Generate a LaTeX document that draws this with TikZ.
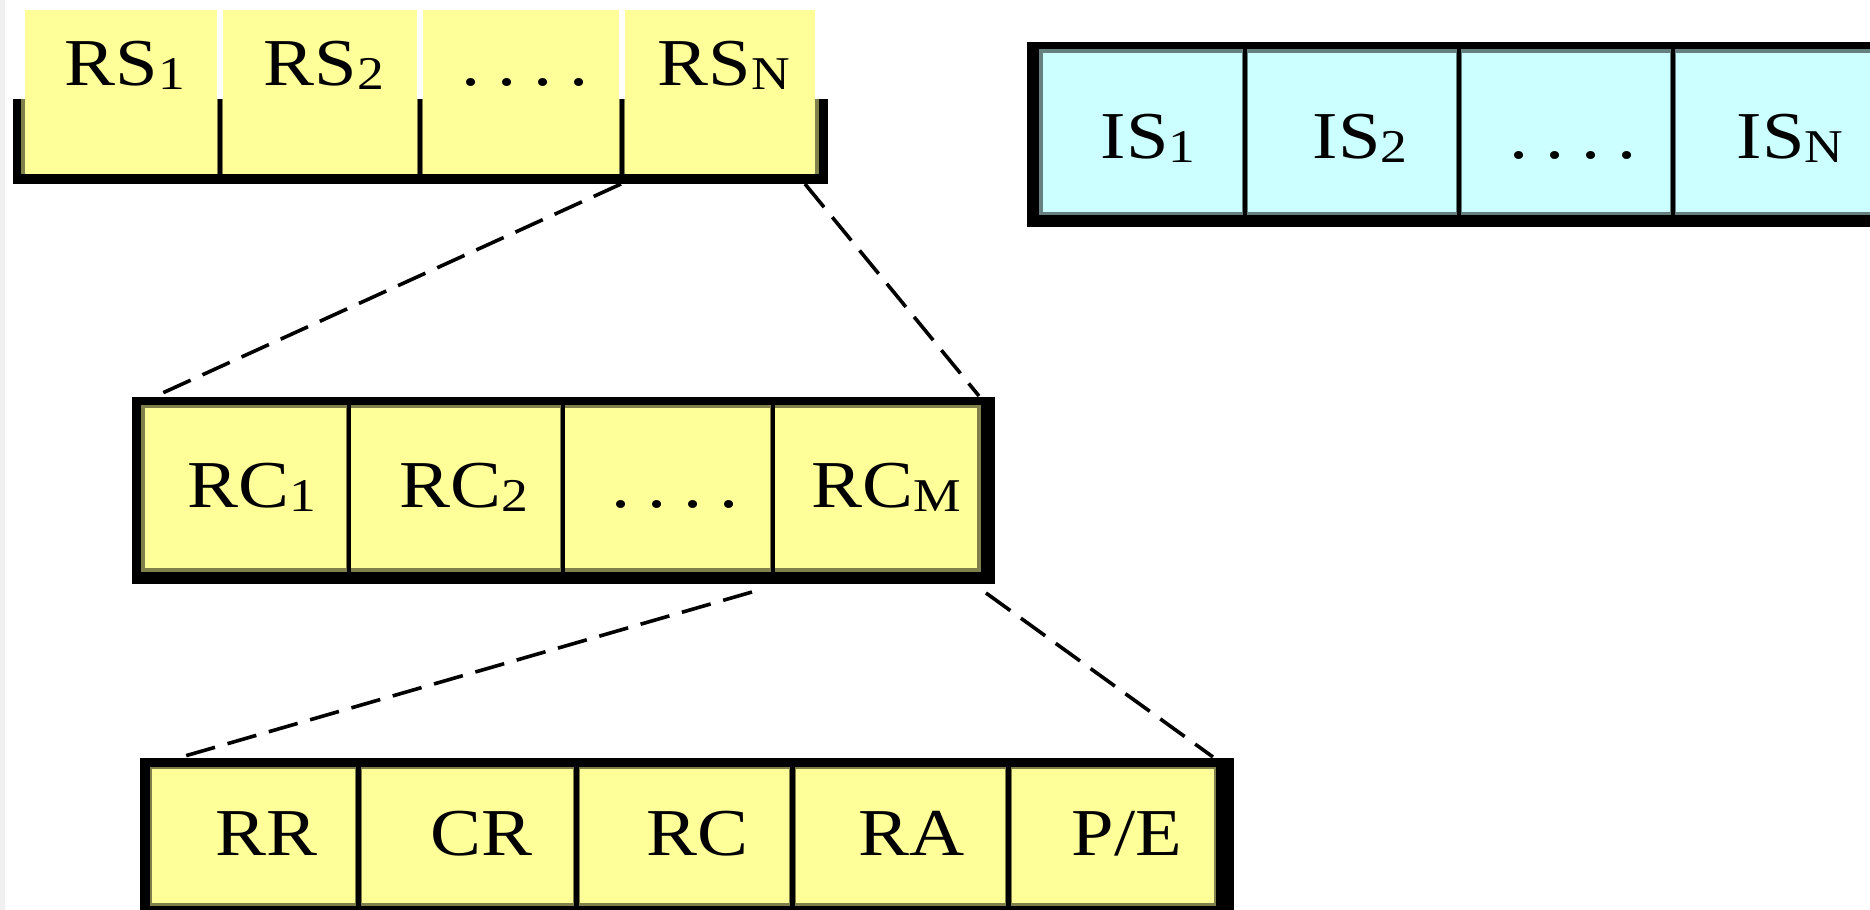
\documentclass[tikz,border=0pt]{standalone}
\usepackage{fontspec}
\setmainfont{Liberation Serif}
\definecolor{cellyellow}{HTML}{FFFF99}
\definecolor{cellcyan}{HTML}{CCFFFF}
\definecolor{rimyellow}{HTML}{80804D}
\definecolor{rimcyan}{HTML}{668080}
\definecolor{sidestrip}{HTML}{F0F0F0}
\newcommand{\lowidx}[1]{\raisebox{-2pt}{\fontsize{23.5}{24}\selectfont #1}}
\newcommand{\celltext}[1]{\scalebox{1.14}[1]{#1}}
\newcommand{\fourdots}{.\hspace{0.22em}.\hspace{0.22em}.\hspace{0.22em}.}
\begin{document}
\begin{tikzpicture}[x=0.5pt,y=-0.5pt,
  cellbox/.style={rectangle,inner sep=0pt,outer sep=0pt,draw=none},
  celllabel/.style={anchor=base,inner sep=0pt,font=\fontsize{33.5}{40}\selectfont},
  divider/.style={line width=2pt,black},
  thickdivider/.style={line width=2.5pt,black},
  zoomline/.style={line width=1.8pt,dash pattern=on 15pt off 6.5pt}]
\useasboundingbox (0,0) rectangle (1870,910);
\clip (0,0) rectangle (1870,910);
\fill[white] (0,0) rectangle (1870,910);
\fill[sidestrip] (0,0) rectangle (5,910);

% ---- RS row (frame open at the top) ----
\fill[black] (13,99) rectangle (828,184);
\fill[rimyellow] (21,99) rectangle (819,174);
\node[cellbox,fill=cellyellow,minimum width=96pt,minimum height=82pt] (rs1) at (121,92) {};
\node[cellbox,fill=cellyellow,minimum width=97pt,minimum height=82pt] (rs2) at (320,92) {};
\node[cellbox,fill=cellyellow,minimum width=98pt,minimum height=82pt] (rs3) at (521,92) {};
\node[cellbox,fill=cellyellow,minimum width=95pt,minimum height=82pt] (rs4) at (720,92) {};
\foreach \dx in {220,420,622} \draw[divider] (\dx,99) -- (\dx,174);
\node[celllabel] (lrs1) at (125,85) {\celltext{RS\lowidx{1}}};
\node[celllabel] (lrs2) at (324,85) {\celltext{RS\lowidx{2}}};
\node[celllabel] (lrs3) at (525,85) {\celltext{\fourdots}};
\node[celllabel] (lrs4) at (724,85) {\celltext{RS\lowidx{N}}};

% ---- IS row ----
\fill[black] (1027,42) rectangle (1900,227);
\fill[rimcyan] (1039,49) rectangle (1900,215);
\node[cellbox,fill=cellcyan,minimum width=99.5pt,minimum height=79.5pt] (is1) at (1142.5,132.5) {};
\node[cellbox,fill=cellcyan,minimum width=104pt,minimum height=79.5pt] (is2) at (1352,132.5) {};
\node[cellbox,fill=cellcyan,minimum width=104pt,minimum height=79.5pt] (is3) at (1566,132.5) {};
\node[cellbox,fill=cellcyan,minimum width=107pt,minimum height=79.5pt] (is4) at (1783,132.5) {};
\foreach \dx in {1245,1459,1673} \draw[divider] (\dx,49) -- (\dx,215);
\node[celllabel] (lis1) at (1148,158) {\celltext{IS\lowidx{1}}};
\node[celllabel] (lis2) at (1360,158) {\celltext{IS\lowidx{2}}};
\node[celllabel] (lis3) at (1573,158) {\celltext{\fourdots}};
\node[celllabel] (lis4) at (1790,158) {\celltext{IS\lowidx{N}}};

% ---- RC row ----
\fill[black] (132,397) rectangle (995,584);
\fill[rimyellow] (141,405) rectangle (981,572);
\node[cellbox,fill=cellyellow,minimum width=100.5pt,minimum height=80pt] (rc1) at (245.5,488) {};
\node[cellbox,fill=cellyellow,minimum width=104.5pt,minimum height=80pt] (rc2) at (455.5,488) {};
\node[cellbox,fill=cellyellow,minimum width=102.5pt,minimum height=80pt] (rc3) at (667.5,488) {};
\node[cellbox,fill=cellyellow,minimum width=101pt,minimum height=80pt] (rc4) at (876,488) {};
\foreach \dx in {348.5,562.5,772.5} \draw[divider] (\dx,405) -- (\dx,572);
\node[celllabel] (lrc1) at (252,507) {\celltext{RC\lowidx{1}}};
\node[celllabel] (lrc2) at (464,507) {\celltext{RC\lowidx{2}}};
\node[celllabel] (lrc3) at (675,507) {\celltext{\fourdots}};
\node[celllabel] (lrc4) at (886,507) {\celltext{RC\lowidx{M}}};

% ---- field row ----
\fill[black] (140,758) rectangle (1234,915);
\fill[rimyellow] (150,767) rectangle (1216,906);
\node[cellbox,fill=cellyellow,minimum width=101.5pt,minimum height=67pt] (f1) at (253.5,836) {};
\node[cellbox,fill=cellyellow,minimum width=105.5pt,minimum height=67pt] (f2) at (467.5,836) {};
\node[cellbox,fill=cellyellow,minimum width=104.5pt,minimum height=67pt] (f3) at (684.5,836) {};
\node[cellbox,fill=cellyellow,minimum width=104.5pt,minimum height=67pt] (f4) at (900.5,836) {};
\node[cellbox,fill=cellyellow,minimum width=101pt,minimum height=67pt] (f5) at (1113,836) {};
\foreach \dx in {358.5,576.5,792.5,1008.5} \draw[thickdivider] (\dx,767) -- (\dx,906);
\node[celllabel] (lf1) at (266,855) {\celltext{RR}};
\node[celllabel] (lf2) at (481,855) {\celltext{CR}};
\node[celllabel] (lf3) at (697,855) {\celltext{RC}};
\node[celllabel] (lf4) at (912,855) {\celltext{RA}};
\node[celllabel] (lf5) at (1127,855) {\celltext{P/E}};

% ---- zoom-in connectors ----
\draw[zoomline] ([shift={(-4,10)}]rs4.south west) -- ([shift={(11,-12)}]rc1.north west);
\draw[zoomline] ([shift={(-10,10)}]rs4.south east) -- ([shift={(2,-12)}]rc4.north east);
\draw[zoomline] ([shift={(-18,24)}]rc3.south east) -- ([shift={(26,-11)}]f1.north west);
\draw[zoomline] ([shift={(9,25)}]rc4.south east) -- ([shift={(-1,-12)}]f5.north east);
\end{tikzpicture}
\end{document}
